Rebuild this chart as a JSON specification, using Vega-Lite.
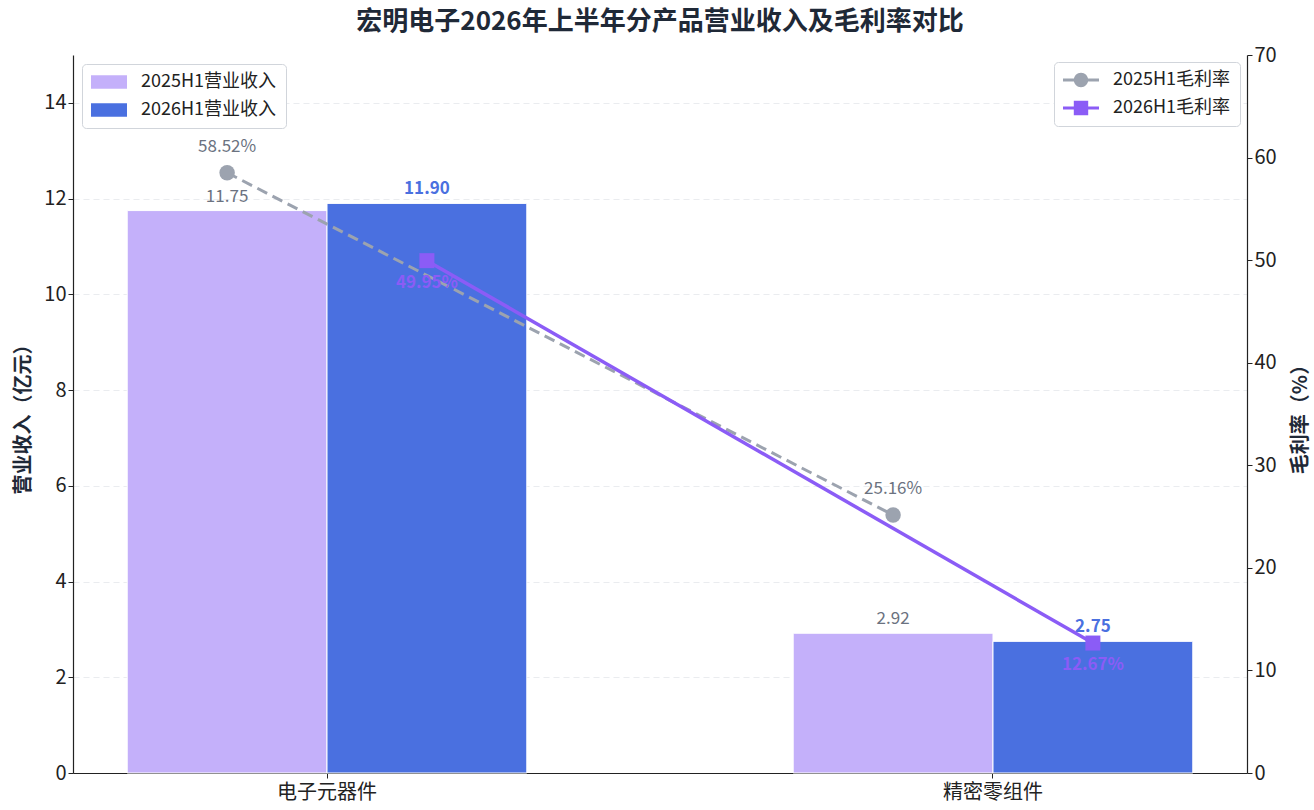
{
  "$schema": "https://vega.github.io/schema/vega-lite/v6.json",
  "autosize": {"type": "none"},
  "padding": {"left": 73, "top": 55, "right": 67, "bottom": 37},
  "width": 1174,
  "height": 718,
  "background": "white",
  "title": {
    "text": "宏明电子2026年上半年分产品营业收入及毛利率对比",
    "fontSize": 26,
    "fontWeight": "bold",
    "color": "#1f2937",
    "offset": 10,
    "anchor": "middle"
  },
  "data": {
    "values": [
      {"category": "电子元器件", "year": "2025H1", "revenue": 11.75, "margin": 58.52},
      {"category": "电子元器件", "year": "2026H1", "revenue": 11.90, "margin": 49.95},
      {"category": "精密零组件", "year": "2025H1", "revenue": 2.92, "margin": 25.16},
      {"category": "精密零组件", "year": "2026H1", "revenue": 2.75, "margin": 12.67}
    ]
  },
  "encoding": {
    "x": {
      "field": "category",
      "type": "nominal",
      "sort": ["电子元器件", "精密零组件"],
      "scale": {"paddingInner": 0.4, "paddingOuter": 0.0814},
      "axis": {"title": null, "labelAngle": 0, "labelFontSize": 20, "labelPadding": 4, "grid": false}
    },
    "xOffset": {"field": "year", "type": "nominal", "scale": {"paddingInner": 0, "paddingOuter": 0}}
  },
  "layer": [
    {
      "encoding": {
        "y": {
          "field": "revenue",
          "type": "quantitative",
          "scale": {"domain": [0, 15], "nice": false},
          "axis": {
            "title": "营业收入（亿元）",
            "values": [0, 2, 4, 6, 8, 10, 12, 14],
            "orient": "left",
            "labelFontSize": 20,
            "grid": true,
            "gridDash": [6, 4],
            "gridColor": "#e5e7eb",
            "gridOpacity": 0.8,
            "titlePadding": 10
          }
        }
      },
      "layer": [
        {
          "mark": {"type": "bar", "stroke": "white", "strokeWidth": 1},
          "encoding": {
            "color": {
              "field": "year",
              "type": "nominal",
              "scale": {"domain": ["2025H1", "2026H1"], "range": ["#c4b0fa", "#4a70e0"]},
              "legend": {
                "title": null,
                "orient": "top-left",
                "offset": 9,
                "labelExpr": "datum.label + '营业收入'",
                "symbolType": "M-2,-0.75H2V0.75H-2Z",
                "symbolSize": 324,
                "symbolStrokeWidth": 0,
                "symbolOffset": 9,
                "labelOffset": 23
              }
            }
          }
        },
        {
          "transform": [{"filter": "datum.year === '2025H1'"}],
          "mark": {"type": "text", "baseline": "bottom", "dy": -5, "fontSize": 17, "color": "#6b7280"},
          "encoding": {"text": {"field": "revenue", "type": "quantitative", "format": ".2f"}}
        },
        {
          "transform": [{"filter": "datum.year === '2026H1'"}],
          "mark": {"type": "text", "baseline": "bottom", "dy": -5, "fontSize": 17, "fontWeight": "bold", "color": "#4a70e0"},
          "encoding": {"text": {"field": "revenue", "type": "quantitative", "format": ".2f"}}
        }
      ]
    },
    {
      "encoding": {
        "y": {
          "field": "margin",
          "type": "quantitative",
          "scale": {"domain": [0, 70], "nice": false},
          "axis": {
            "title": "毛利率（%）",
            "orient": "right",
            "values": [0, 10, 20, 30, 40, 50, 60, 70],
            "labelFontSize": 20,
            "grid": false,
            "titleAngle": 270,
            "titlePadding": 34
          }
        }
      },
      "layer": [
        {
          "transform": [{"filter": "datum.year === '2025H1'"}],
          "mark": {"type": "line", "color": "#9ca3af", "strokeWidth": 3, "strokeDash": [11, 6]}
        },
        {
          "transform": [{"filter": "datum.year === '2026H1'"}],
          "mark": {"type": "line", "color": "#8b5cf6", "strokeWidth": 3.5}
        },
        {
          "transform": [{"filter": "datum.year === '2025H1'"}],
          "mark": {"type": "point", "filled": true, "opacity": 1, "size": 240, "shape": "circle", "color": "#9ca3af"}
        },
        {
          "transform": [{"filter": "datum.year === '2026H1'"}],
          "mark": {"type": "point", "filled": true, "opacity": 1, "size": 225, "shape": "square", "color": "#8b5cf6"}
        },
        {
          "mark": {"type": "point", "filled": true, "opacity": 1, "size": 0},
          "encoding": {
            "shape": {
              "field": "year",
              "type": "nominal",
              "scale": {
                "domain": ["2025H1", "2026H1"],
                "range": [
                  "M-2,-0.17H2V0.17H-2Z M0.8,0A0.8,0.8 0 1,1 -0.8,0A0.8,0.8 0 1,1 0.8,0Z",
                  "M-2,-0.17H2V0.17H-2Z M-0.8,-0.8H0.8V0.8H-0.8Z"
                ]
              },
              "legend": {
                "title": null,
                "orient": "top-right",
                "offset": 7,
                "labelExpr": "datum.label + '毛利率'",
                "symbolSize": 324,
                "symbolStrokeWidth": 0,
                "symbolOffset": 9,
                "labelOffset": 23
              }
            },
            "color": {
              "field": "year",
              "type": "nominal",
              "scale": {"domain": ["2025H1", "2026H1"], "range": ["#9ca3af", "#8b5cf6"]},
              "legend": {
                "title": null,
                "orient": "top-right",
                "offset": 7,
                "labelExpr": "datum.label + '毛利率'",
                "symbolSize": 324,
                "symbolStrokeWidth": 0,
                "symbolOffset": 9,
                "labelOffset": 23
              }
            }
          }
        },
        {
          "transform": [{"filter": "datum.year === '2025H1'"}],
          "mark": {"type": "text", "dy": -26, "fontSize": 17, "color": "#6b7280", "text": {"expr": "format(datum.margin, '.2f') + '%'"}}
        },
        {
          "transform": [{"filter": "datum.year === '2026H1'"}],
          "mark": {"type": "text", "dy": 22, "fontSize": 17, "fontWeight": "bold", "color": "#8b5cf6", "text": {"expr": "format(datum.margin, '.2f') + '%'"}}
        }
      ]
    }
  ],
  "resolve": {"scale": {"y": "independent", "color": "independent", "shape": "independent"}},
  "config": {
    "font": "Noto Sans CJK SC",
    "view": {"stroke": null},
    "axis": {
      "domainColor": "#222",
      "domainWidth": 1.2,
      "tickColor": "#222",
      "tickSize": 5,
      "labelFontSize": 18,
      "labelColor": "#222",
      "titleFontSize": 20,
      "titleFontWeight": "bold",
      "titleColor": "#1f2937"
    },
    "legend": {
      "labelFontSize": 18,
      "labelColor": "#222",
      "strokeColor": "#d1d5db",
      "fillColor": "white",
      "cornerRadius": 4,
      "padding": 9,
      "rowPadding": 10
    }
  }
}
